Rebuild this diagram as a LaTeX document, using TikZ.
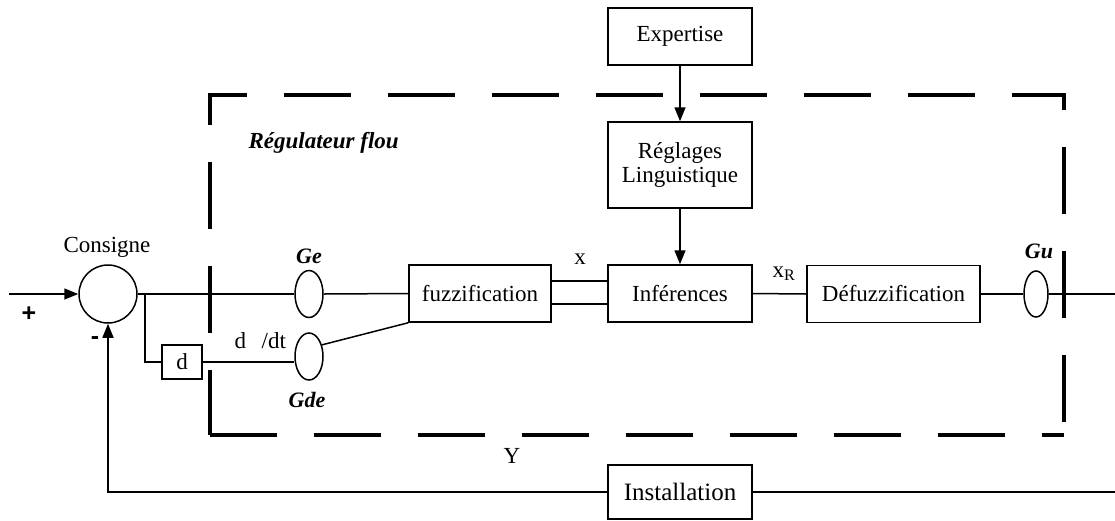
\documentclass[tikz,border=0pt]{standalone}
\usepackage{fontspec}
\setmainfont{Liberation Serif}
\newfontfamily\sansb{Liberation Sans}
\usetikzlibrary{arrows.meta,shapes.geometric}
\begin{document}
\begin{tikzpicture}[x=1pt,y=-1pt,
  every node/.style={font=\fontsize{23}{26}\selectfont},
  blk/.style={draw,line width=1.5pt,inner sep=0pt,minimum height=57pt},
  gain/.style={draw,ellipse,line width=1.5pt,inner sep=0pt,minimum width=28pt,minimum height=47pt},
  glab/.style={font=\fontsize{22}{24}\selectfont\bfseries\itshape,anchor=base},
  lab/.style={anchor=base},
  sgn/.style={font=\fontsize{25}{28}\selectfont\sansb\bfseries},
  wire/.style={line width=1.5pt},
  arr/.style={line width=1.5pt,-{Triangle[length=14pt,width=11pt]}},
  frame/.style={line width=3.5pt,dash pattern=on 67pt off 37pt}
]
\useasboundingbox (0,0) rectangle (1115,520);
% dashed frame
\draw[frame,dash phase=2pt] (210,435) -- (210,95) -- (1064,95) -- (1064,435);
\draw[frame,dash phase=45pt] (1064,435) -- (210,435);
\node[font=\fontsize{23}{26}\selectfont\bfseries\itshape,anchor=base west] (reg) at (245,148) {Régulateur flou};

% blocks
\node[blk,minimum width=144pt] (exp) at (680,36.5) {Expertise};
\node[blk,minimum width=144pt,minimum height=86pt,align=center] (regl) at (680,165) {Réglages\\[-2pt]Linguistique};
\node[blk,minimum width=142pt] (fuzz) at (480,293.5) {fuzzification};
\node[blk,minimum width=144pt] (inf) at (680,293.5) {Inférences};
\node[blk,minimum width=173pt] (defz) at (893.5,294) {Défuzzification};
\node[blk,minimum width=144pt,minimum height=54pt,font=\fontsize{25}{28}\selectfont] (inst) at (680,492) {Installation};
\node[blk,minimum width=40pt,minimum height=34pt] (d) at (182,362) {d};

% summing junction
\node[draw,circle,line width=1.5pt,minimum size=58pt,inner sep=0pt] (sum) at (108,294) {};
\node[lab] (cons) at (107,252) {Consigne};
\node[sgn] (plus) at (29,314) {+};
\node[sgn] (minus) at (95,341) {-};

% gains
\node[gain] (ge) at (309,294) {};
\node[gain] (gde) at (309,356.5) {};
\node[gain,minimum width=24pt,minimum height=46pt] (gu) at (1036,294) {};
\node[glab] (gel) at (309,263) {Ge};
\node[glab] (gdel) at (307,407) {Gde};
\node[glab] (gul) at (1039,258) {Gu};

% signal labels
\node[lab] (xl) at (580,264) {x};
\node[lab] (xrl) at (784,277) {x\textsubscript{R}};
\node[lab,anchor=base west] (ddt) at (231,348) {d\hspace{0.68em}/dt};
\node[lab] (yl) at (512,463) {Y};

% coordinates
\coordinate (in) at (9,294);
\coordinate (br) at (145,294);
\coordinate (out) at (1115,294);
\coordinate (fbR) at (1115,492);
\coordinate (fbL) at (108,492);

% connectors
\draw[arr] (in) -- (sum.west);
\draw[wire] (sum.east) -- (ge.west);
\draw[wire] (ge.east) -- (fuzz.west);
\draw[wire] (br) |- (d.west);
\draw[wire] (d.east) -- (d.east -| gde.west);
\draw[wire] (gde.42) -- (fuzz.south west);
\draw[wire] ([yshift=-10.5pt]fuzz.east) -- ([yshift=-10.5pt]inf.west);
\draw[wire] ([yshift=12.5pt]fuzz.east) -- ([yshift=12.5pt]inf.west);
\draw[arr] (exp.south) -- (regl.north);
\draw[arr] (regl.south) -- (inf.north);
\draw[wire] (inf.east) -- (defz.west);
\draw[wire] (defz.east) -- (gu.west);
\draw[wire] (gu.east) -- (out);
\draw[wire] (fbR) -- (inst.east);
\draw[arr] (inst.west) -- (fbL) -- (sum.south);
\end{tikzpicture}
\end{document}
